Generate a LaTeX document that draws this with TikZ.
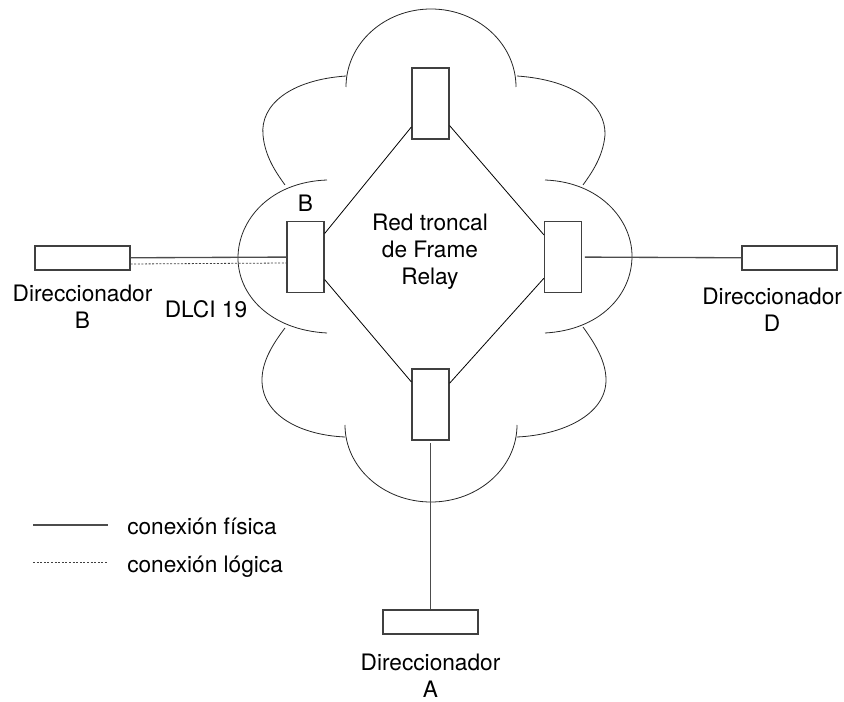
\documentclass[tikz,border=0pt]{standalone}
\usepackage{fontspec}
\setmainfont{TeX Gyre Heros}
\usetikzlibrary{positioning}

\begin{document}
\begin{tikzpicture}[x=0.75pt, y=-0.75pt, node distance=10pt,
    nube/.style={line width=0.6pt, black!85},
    conmutador/.style={draw=black!75, line width=0.9pt, rectangle, inner sep=0pt, minimum width=27.75pt, minimum height=53.25pt},
    direccionador/.style={draw=black!75, line width=0.9pt, rectangle, inner sep=0pt, minimum width=71.25pt, minimum height=18pt},
    rotulo/.style={font=\fontsize{17}{20.25}\selectfont, align=center, inner sep=0pt},
    fisica/.style={line width=1pt, black!70},
    troncal/.style={line width=0.6pt, black},
    logica/.style={line width=0.6pt, black!75, dash pattern=on 1.5pt off 1.2pt}]
    \useasboundingbox (0,0) rectangle (844,702);

    % Cloud
    \draw[nube] (346,87) arc[start angle=180, end angle=360, x radius=85, y radius=78];
    \draw[nube] (346,76) .. controls (290,80) and (260,105) .. (263,135) .. controls (265,158) and (278,175) .. (285,185);
    \draw[nube] (327,180) .. controls (270,182) and (238,220) .. (238,258) .. controls (238,295) and (270,330) .. (327,333);
    \draw[nube] (285,328) .. controls (272,345) and (262,362) .. (262,380) .. controls (262,415) and (300,435) .. (345,437);
    \draw[nube] (345,425) arc[start angle=180, end angle=0, x radius=86, y radius=77];
    \draw[nube] (517,76) .. controls (575,80) and (606,105) .. (605,135) .. controls (603,158) and (590,175) .. (583,185);
    \draw[nube] (545,180) .. controls (600,182) and (632,220) .. (632,256) .. controls (632,295) and (600,330) .. (545,333);
    \draw[nube] (583,327) .. controls (596,345) and (606,362) .. (606,380) .. controls (606,415) and (562,435) .. (517,437);

    % Frame Relay switches
    \node (tbox) [conmutador] at (430.5,103.5) {};
    \node (lbox) [conmutador] at (305.5,257) {};
    \node (rbox) [conmutador] at (563,257) {};
    \node (bbox) [conmutador] at (430.5,404.5) {};

    % Routers
    \node (dirB) [direccionador] at (82.5,258) {};
    \node (dirD) [direccionador] at (789.5,258) {};
    \node (dirA) [direccionador] at (430.5,622) {};

    % Labels
    \node (labB) [rotulo, below=10.5pt of dirB] {Direccionador\\B};
    \node (labD) [rotulo, below=13pt of dirD, xshift=-13pt] {Direccionador\\D};
    \node (labA) [rotulo, below=14.5pt of dirA] {Direccionador\\A};
    \node (swB) [rotulo, above=6.75pt of lbox] {B};
    \node (dlci) [rotulo, anchor=base] at (206,318) {DLCI 19};
    \node (red) [rotulo] at (430,252) {Red troncal\\de Frame\\Relay};

    % Links
    \draw[troncal] (tbox) -- (lbox);
    \draw[troncal] (tbox) -- (rbox);
    \draw[troncal] (lbox) -- (bbox);
    \draw[troncal] (rbox) -- (bbox);
    \draw[fisica] (dirB) -- (lbox);
    \draw[logica] ([yshift=-4.5pt]dirB.east) -- ([yshift=-4.5pt]lbox.west);
    \draw[fisica, shorten <=2pt] (rbox) -- (dirD);
    \draw[fisica, shorten <=2pt] (bbox) -- (dirA);

    % Legend
    \coordinate (f1) at (33,525);
    \coordinate (f2) at (108,525);
    \coordinate (l1) at (33,562);
    \coordinate (l2) at (108,562);
    \draw[fisica] (f1) -- (f2);
    \draw[logica] (l1) -- (l2);
    \node (leyf) [rotulo, anchor=base west] at (127,535) {conexión física};
    \node (leyl) [rotulo, anchor=base west] at (127,573) {conexión lógica};
\end{tikzpicture}
\end{document}
